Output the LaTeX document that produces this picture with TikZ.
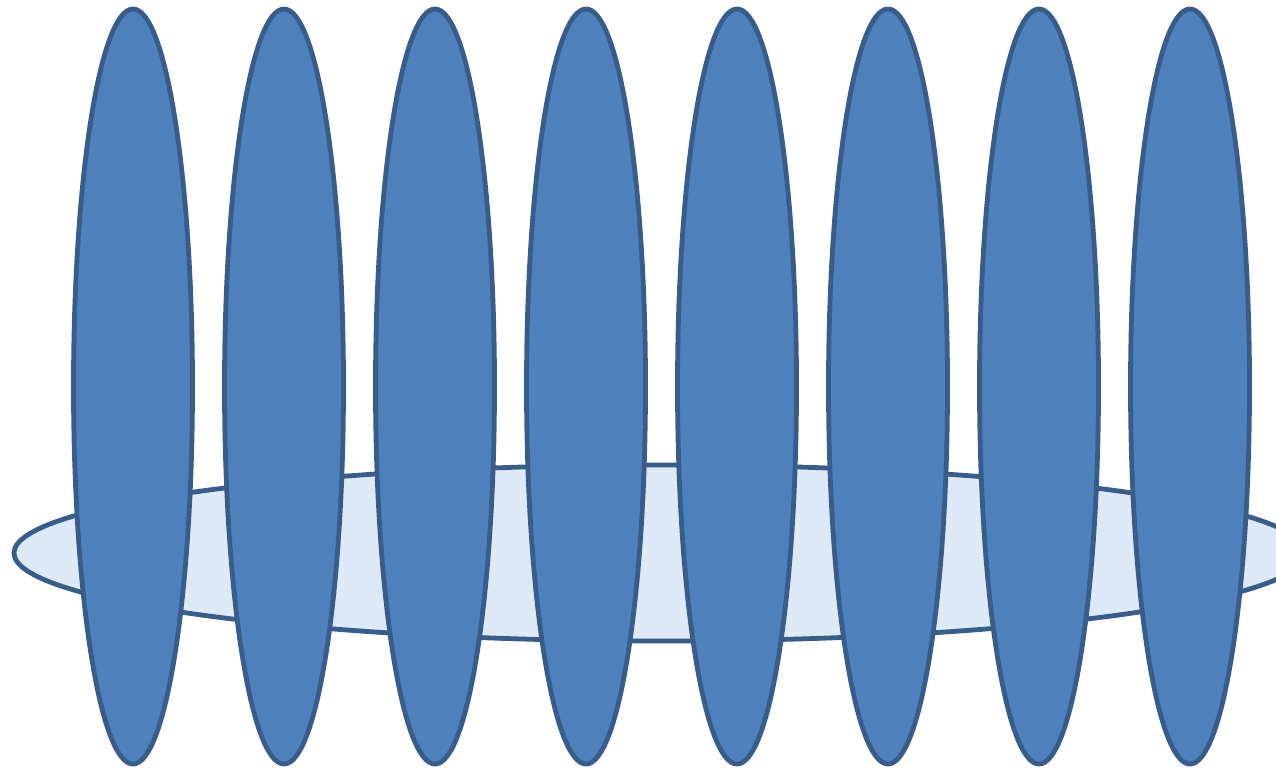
\documentclass[tikz,border=0pt]{standalone}
\usepackage{xcolor}
\usepackage{tikz}
\usetikzlibrary{shapes.geometric,positioning}
\definecolor{lensblue}{HTML}{4F81BD}
\definecolor{lensedge}{HTML}{385D8A}
\definecolor{discmist}{HTML}{DDE9F6}

\begin{document}
\begin{tikzpicture}
  \tikzstyle{disc}=[ellipse, draw=lensedge, line width=0.048cm, fill=discmist, inner sep=0pt, outer sep=0pt, minimum width=12.92cm, minimum height=1.76cm]
  \tikzstyle{lens}=[ellipse, draw=lensedge, line width=0.048cm, fill=lensblue, inner sep=0pt, outer sep=0pt, minimum width=1.19cm, minimum height=7.55cm]

  \useasboundingbox (0,0) rectangle (12.76,-7.67);
  \clip (0,0) rectangle (12.76,-7.67);

  \node[disc] (base) at (6.60,-5.53) {};

  \node[lens] (lens1) at (1.33,-3.865) {};
  \foreach \i [remember=\i as \prev (initially 1)] in {2,...,8}
    \node[lens, right=0.32cm of lens\prev] (lens\i) {};
\end{tikzpicture}
\end{document}
